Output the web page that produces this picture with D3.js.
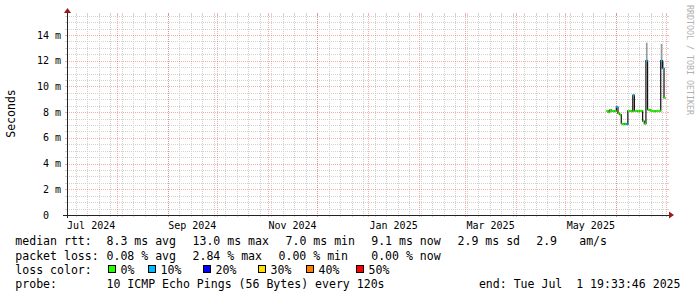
<!DOCTYPE html>
<html>
<head>
<meta charset="utf-8">
<script src="https://cdn.jsdelivr.net/npm/d3@7"></script>
<style>
body { margin: 0; background: #fff; }
svg { display: block; }
text { font-family: "DejaVu Sans Mono", monospace; white-space: pre; }
</style>
</head>
<body>
<svg id="chart" width="697" height="297"></svg>
<script>
// one consolidated row per day (UTC)
const days = [
    '2025-05-26', '2025-05-27', '2025-05-28', '2025-05-29', '2025-05-30', '2025-05-31',
    '2025-06-01', '2025-06-02', '2025-06-03', '2025-06-04', '2025-06-05', '2025-06-06',
    '2025-06-07', '2025-06-08', '2025-06-09', '2025-06-10', '2025-06-11', '2025-06-12',
    '2025-06-13', '2025-06-14', '2025-06-15', '2025-06-16', '2025-06-17', '2025-06-18',
    '2025-06-19', '2025-06-20', '2025-06-21', '2025-06-22', '2025-06-23', '2025-06-24',
    '2025-06-25', '2025-06-26', '2025-06-27', '2025-06-28', '2025-06-29', '2025-06-30'
];
const medianMs = [
    8.1, 8.0, 8.15, 8.1, 8.05, 8.1,
    8.4, 7.9, 7.8, 7.1, 7.05, 7.1,
    7.05, 8.1, 8.1, 8.05, 9.3, 8.1,
    8.1, 8.05, 8.1, 8.1, 7.3, 7.1,
    12.0, 8.2, 8.15, 8.1, 8.1, 8.05,
    8.1, 8.1, 8.1, 12.0, 11.4, 9.1
];
const lossPct = [
    0, 0, 0, 0, 0, 0,
    10, 0, 0, 0, 0, 0,
    10, 0, 0, 0, 10, 0,
    0, 0, 0, 0, 0, 0,
    10, 0, 0, 0, 0, 0,
    0, 0, 0, 10, 10, 0
];
const smokeMaxMs = [
    8.1, 8.0, 8.15, 8.1, 8.05, 8.1,
    8.5, 7.9, 7.8, 7.1, 7.05, 7.1,
    7.05, 8.1, 8.1, 8.05, 9.4, 8.1,
    8.1, 8.05, 8.1, 8.1, 7.3, 7.1,
    13.4, 8.2, 8.15, 8.1, 8.1, 8.05,
    8.1, 8.1, 8.1, 13.3, 12.0, 9.1
];

const lossLabels = ['0%', '10%', '20%', '30%', '40%', '50%'];
const lossColors = ['#26ff00', '#00b8ff', '#0000ff', '#ffe000', '#ff7f00', '#ff0000'];

const yMajorTicks = [0, 2, 4, 6, 8, 10, 12, 14];
const rttStats = ['8.3 ms avg', '13.0 ms max', '7.0 ms min', '9.1 ms now', '2.9 ms sd', '2.9', 'am/s'];
const lossStats = ['0.08 % avg', '2.84 % max', '0.00 % min', '0.00 % now'];
const probeText = '10 ICMP Echo Pings (56 Bytes) every 120s';
const endText = 'end: Tue Jul  1 19:33:46 2025';

const endTime = new Date(Date.UTC(2025, 6, 1, 19, 33, 46));
const startTime = d3.utcDay.offset(endTime, -365);

// layout
const x0 = 67, x1 = 667, y0 = 215, y1 = 15;
const rttCols = [106.5, 192.5, 285.5, 371.2, 457.5, 536.2, 579.2];
const lossCols = [106.5, 192.5, 278.5, 371.2];
const boxCols = [108, 148, 203, 258, 306, 356];
const rowY = [245, 259.5, 273.8, 288];

const svg = d3.select('#chart');
const parseDay = d3.utcParse('%Y-%m-%d');

const x = d3.scaleUtc().domain([startTime, endTime]).range([x0, x1]);
const y = d3.scaleLinear().domain([0, 15.556]).range([y0, y1]);

const minorColor = '#d2d2d2';
const majorColor = 'rgba(230, 60, 60, 0.42)';

const grid = svg.append('g');

function hLine(v, color) {
    const py = Math.round(y(v)) + 0.5;
    grid.append('line').attr('x1', x0).attr('x2', x1).attr('y1', py).attr('y2', py)
        .attr('stroke', color).attr('stroke-dasharray', '1,1');
    grid.append('line').attr('x1', x0 - 2).attr('x2', x0).attr('y1', py).attr('y2', py)
        .attr('stroke', color);
    grid.append('line').attr('x1', x1).attr('x2', x1 + 2).attr('y1', py).attr('y2', py)
        .attr('stroke', color);
}

function vLine(t, color) {
    const px = Math.round(x(t)) + 0.5;
    grid.append('line').attr('x1', px).attr('x2', px).attr('y1', y1).attr('y2', y0)
        .attr('stroke', color).attr('stroke-dasharray', '1,1');
    grid.append('line').attr('x1', px).attr('x2', px).attr('y1', y1 - 2).attr('y2', y1)
        .attr('stroke', color);
    grid.append('line').attr('x1', px).attr('x2', px).attr('y1', y0).attr('y2', y0 + 2)
        .attr('stroke', color);
}

// minor grid: half ms, weeks
d3.range(0.5, 15.51, 0.5).filter(v => v % 2 !== 0).forEach(v => hLine(v, minorColor));
d3.utcSunday.range(startTime, endTime).forEach(t => vLine(t, minorColor));

// major grid: 2 ms, months
yMajorTicks.filter(v => v > 0).forEach(v => hLine(v, majorColor));
d3.utcMonth.range(startTime, endTime).forEach(t => vLine(t, majorColor));

// y labels
svg.append('g').selectAll('text')
    .data(yMajorTicks)
    .join('text')
    .attr('x', 61)
    .attr('y', d => y(d) + 3.5)
    .attr('text-anchor', 'end')
    .attr('font-size', '10px')
    .attr('fill', '#000')
    .text(d => d === 0 ? '0  ' : d + ' m');

// x labels, every second month, centred mid-month
const midMonth = d => new Date((+d + +d3.utcMonth.offset(d, 1)) / 2);
const labelMonths = d3.utcMonth.range(d3.utcMonth.floor(startTime), endTime)
    .filter(t => t.getUTCMonth() % 2 === 0 && midMonth(t) < endTime);
svg.append('g').selectAll('text')
    .data(labelMonths)
    .join('text')
    .attr('x', d => x(midMonth(d)))
    .attr('y', 228.5)
    .attr('text-anchor', 'middle')
    .attr('font-size', '10px')
    .attr('fill', '#000')
    .text(d3.utcFormat('%b %Y'));

// smoke + median
const rows = days.map(function (d, i) {
    const t = parseDay(d);
    return { t: t, t2: d3.utcDay.offset(t, 1), med: medianMs[i], loss: lossPct[i], hi: smokeMaxMs[i] };
});

const plot = svg.append('g');

plot.selectAll('rect.smoke')
    .data(rows.filter(r => r.hi > r.med))
    .join('rect')
    .attr('class', 'smoke')
    .attr('x', r => x(r.t))
    .attr('width', r => x(r.t2) - x(r.t))
    .attr('y', r => y(r.hi))
    .attr('height', r => y(r.med) - y(r.hi))
    .attr('fill', '#9a9a9a');

const stepPts = [];
rows.forEach(function (r) {
    stepPts.push([x(r.t), y(r.med)]);
    stepPts.push([x(r.t2), y(r.med)]);
});
plot.append('path')
    .attr('d', d3.line()(stepPts))
    .attr('fill', 'none')
    .attr('stroke', '#111')
    .attr('stroke-width', 1.2);

plot.selectAll('line.med')
    .data(rows)
    .join('line')
    .attr('class', 'med')
    .attr('x1', r => x(r.t))
    .attr('x2', r => x(r.t2))
    .attr('y1', r => y(r.med))
    .attr('y2', r => y(r.med))
    .attr('stroke', r => lossColors[Math.min(5, Math.round(r.loss / 10))])
    .attr('stroke-width', 2);

// axes
svg.append('line').attr('x1', 63).attr('x2', 670).attr('y1', y0 + 0.5).attr('y2', y0 + 0.5)
    .attr('stroke', '#222');
svg.append('line').attr('x1', x0 + 0.5).attr('x2', x0 + 0.5).attr('y1', 13).attr('y2', 218)
    .attr('stroke', '#222');
svg.append('path').attr('d', 'M669,211.5L669,218.5L674,215Z').attr('fill', '#9a1a1a');
svg.append('path').attr('d', 'M64,13L71,13L67.5,8Z').attr('fill', '#9a1a1a');

// unit + watermark
svg.append('text')
    .attr('transform', 'translate(15,113.5) rotate(-90)')
    .attr('text-anchor', 'middle')
    .attr('font-size', '11.5px')
    .text('Seconds');

svg.append('text')
    .attr('transform', 'translate(686.5,5) rotate(90)')
    .attr('font-size', '8.3px')
    .attr('fill', '#b0b0b0')
    .text('RRDTOOL / TOBI OETIKER');

// legend
const legend = svg.append('g').attr('font-size', '11.55px').attr('fill', '#000');

legend.append('text').attr('x', 15.3).attr('y', rowY[0]).text('median rtt:');
rttStats.forEach(function (s, i) {
    legend.append('text').attr('x', rttCols[i]).attr('y', rowY[0]).text(s);
});

legend.append('text').attr('x', 15.3).attr('y', rowY[1]).text('packet loss:');
lossStats.forEach(function (s, i) {
    legend.append('text').attr('x', lossCols[i]).attr('y', rowY[1]).text(s);
});

legend.append('text').attr('x', 15.3).attr('y', rowY[2]).text('loss color:');
lossLabels.forEach(function (s, i) {
    legend.append('rect')
        .attr('x', boxCols[i] + 0.5).attr('y', rowY[2] - 8.3)
        .attr('width', 7).attr('height', 7)
        .attr('fill', lossColors[i]).attr('stroke', '#000');
    legend.append('text').attr('x', boxCols[i] + 12.5).attr('y', rowY[2]).text(s);
});

legend.append('text').attr('x', 15.3).attr('y', rowY[3]).text('probe:');
legend.append('text').attr('x', rttCols[0]).attr('y', rowY[3]).text(probeText);
legend.append('text').attr('x', 680.5).attr('y', rowY[3]).attr('text-anchor', 'end').text(endText);
</script>
</body>
</html>
